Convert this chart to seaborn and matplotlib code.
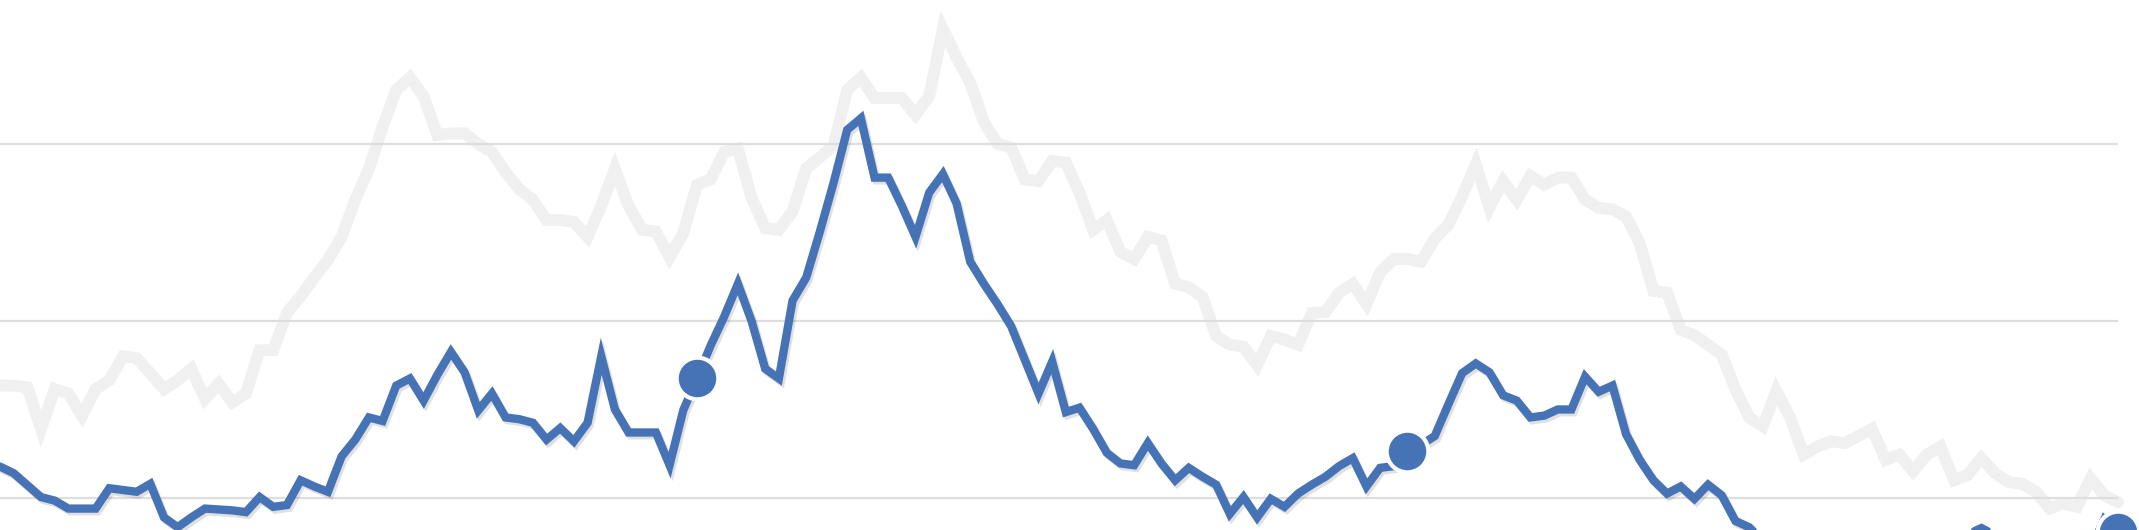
import pandas as pd
import seaborn as sns
import matplotlib.pyplot as plt
import matplotlib.patheffects as pe

# weekly values, current year (blue) and previous year (grey)
current = [23.55, 22.8, 21.45, 20.1, 19.7, 18.8, 18.8, 18.8, 21.1, 20.9, 20.7, 21.6, 17.8, 16.7, 17.8, 18.8, 18.7, 18.6, 18.4, 20.1,
           19.0, 19.2, 22.0, 21.3, 20.7, 24.7, 26.6, 29.1, 28.7, 32.7, 33.5, 31.0, 33.9, 36.5, 34.2, 29.9, 31.8, 29.1, 28.9,
           28.5, 26.6, 27.9, 26.4, 28.5, 36.0, 30.0, 27.4, 27.4, 27.4, 23.7, 29.9, 33.5, 37.2, 40.5, 44.2, 40.0, 34.6, 33.5, 42.3,
           44.9, 50.1, 55.6, 61.6, 62.9, 56.2, 56.2, 53.0, 49.5, 54.5, 56.6, 53.3, 46.7, 44.2, 41.9, 39.4, 35.6, 31.8, 35.4,
           29.7, 30.2, 27.8, 25.1, 23.9, 23.7, 26.2, 23.9, 22.0, 23.4, 22.4, 21.5, 18.2, 20.1, 17.8, 19.9, 19.0, 20.5, 21.5, 22.4,
           23.6, 24.5, 21.3, 23.4, 23.6, 25.3, 26.0, 27.0, 30.6, 34.1, 35.2, 34.2, 31.6, 31.0, 29.1, 29.3, 30.0, 30.0, 33.7,
           32.0, 32.7, 27.2, 24.3, 22.0, 20.5, 21.3, 19.9, 21.5, 20.3, 17.4, 16.7,
           15.2, 14.5, 14.8, 14.0, 13.6, 14.2, 13.8, 13.5, 14.0, 13.2, 13.6, 14.3, 13.9, 14.6, 15.2, 15.9, 16.6, 15.8, 15.0, 14.4,
           14.0, 13.5, 13.2, 13.0, 14.2, 17.6, 16.2]

previous = [32.7, 32.7, 32.5, 27.8, 32.3, 31.8, 29.3, 32.3, 33.3, 36.0, 35.8, 34.1, 32.3, 33.3, 34.6, 31.2, 32.9, 30.8, 31.8, 36.7,
            36.7, 40.9, 42.8, 44.9, 46.9, 49.5, 53.7, 57.2, 61.9, 66.1, 67.5, 65.4, 61.0, 61.2, 61.2, 60.0, 59.1, 56.8, 54.9,
            53.7, 51.4, 51.4, 51.2, 49.5, 53.0, 57.2, 53.0, 50.3, 50.1, 47.2, 49.9, 55.4, 56.0, 59.1, 59.5, 53.9, 50.5, 50.3, 52.4,
            57.2, 58.5, 59.8, 66.1, 67.5, 65.2, 65.2, 65.2, 63.3, 65.4, 73.0, 69.8, 66.9, 62.5, 60.0, 59.6, 56.0, 55.8, 58.1,
            57.9, 54.5, 50.3, 51.4, 47.8, 47.0, 49.5, 49.1, 44.2, 43.8, 42.7, 38.3, 37.3, 37.1, 35.0, 38.3, 37.9, 37.3, 40.9, 41.0,
            43.2, 44.2, 41.9, 45.5, 47.0, 47.0, 46.7, 49.3, 50.9, 54.1, 57.7, 52.8, 55.8, 53.7, 56.4, 55.4, 56.2, 56.2, 53.7,
            52.8, 52.6, 51.8, 48.8, 43.4, 43.2, 39.0, 38.4, 37.3, 36.2, 32.3, 29.1, 28.1, 32.1, 29.1, 24.9, 25.8, 26.4, 26.2, 27.0,
            27.8, 24.3, 24.9, 23.0, 24.9, 25.8, 22.0, 22.6, 24.5, 22.8, 21.8, 21.6, 20.7, 18.8, 19.4, 19.0, 22.2, 20.3, 19.5]

marker_weeks = [51, 103, 155]
grid_levels = [20, 40, 60]

BLUE = "#4673b6"

df = pd.DataFrame({"week": range(len(current)), "current": current, "previous": previous})

sns.set_theme(style="white")
fig = plt.figure(figsize=(21.39, 5.30), dpi=100)
ax = fig.add_axes([0, 0, 1, 1])

sns.lineplot(data=df, x="week", y="previous", color="#f0f0f0", ax=ax, zorder=1)
grey_line = ax.lines[-1]
grey_line.set_linewidth(8.5)
grey_line.set_solid_joinstyle("miter")
ax.hlines(grid_levels, 0, df["week"].iloc[-1], colors="#dedede", linewidth=1.6, zorder=2)

sns.lineplot(data=df, x="week", y="current", color=BLUE, ax=ax, zorder=3)
blue_line = ax.lines[-1]
blue_line.set_linewidth(6.0)
blue_line.set_solid_joinstyle("miter")
blue_line.set_path_effects([pe.SimpleLineShadow(offset=(1.5, -2), shadow_color="black", alpha=0.12), pe.Normal()])

marks = df.iloc[marker_weeks]
sns.scatterplot(data=marks, x="week", y="current", s=900, color=BLUE, edgecolor="white", linewidth=3.0, ax=ax, zorder=4)

ax.set_xlim(0, 155 * 2139 / 2118)
ax.set_ylim(16.38, 76.27)
ax.set_axis_off()

fig.savefig("out.png", dpi=100)
